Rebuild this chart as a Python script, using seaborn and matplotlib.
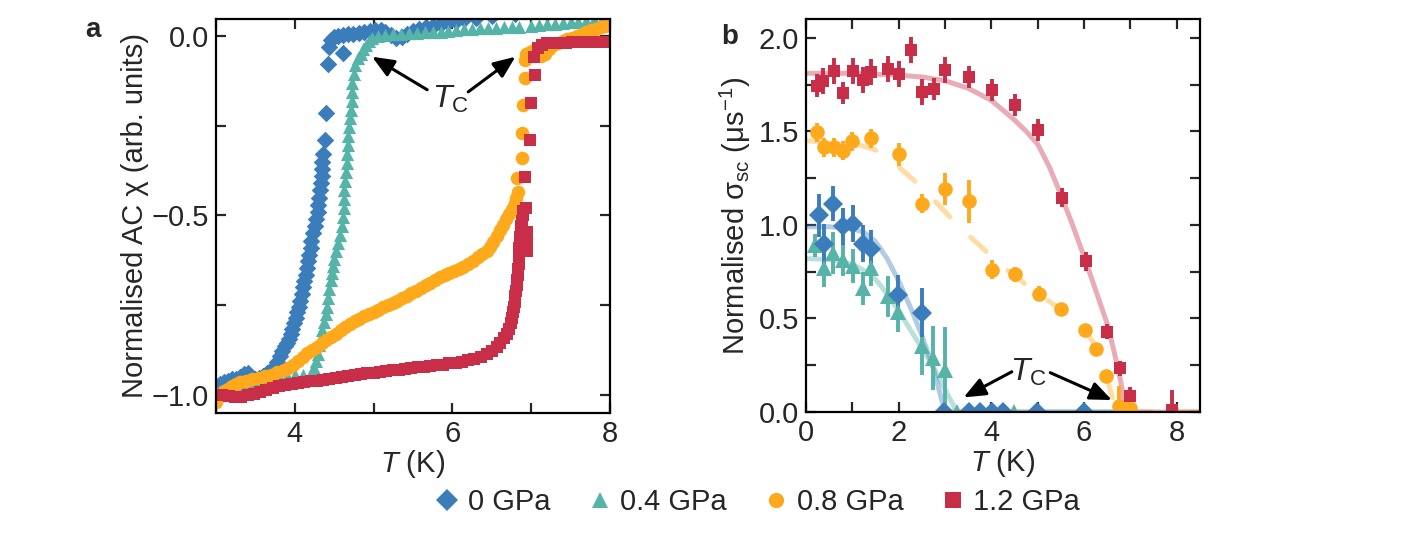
import matplotlib
matplotlib.use("Agg")
import matplotlib.pyplot as plt
from matplotlib.lines import Line2D
from matplotlib.ticker import MultipleLocator
import seaborn as sns

# ---------------- panel a: normalised AC susceptibility ----------------
chi_t_0 = [3.00, 3.05, 3.10, 3.15, 3.20, 3.25, 3.30, 3.35, 3.40, 3.45, 3.50, 3.55, 3.60, 3.65, 3.70,
           3.75, 3.78, 3.81, 3.84, 3.87, 3.90, 3.93, 3.95, 3.97, 3.99, 4.01, 4.03, 4.05, 4.07, 4.09,
           4.11, 4.12, 4.14, 4.15, 4.17, 4.18, 4.20, 4.21, 4.23, 4.25, 4.27, 4.29, 4.30, 4.31, 4.32,
           4.33, 4.34, 4.34, 4.35, 4.36, 4.38, 4.40, 4.42, 4.61, 4.43, 4.46, 4.50, 4.55, 4.61, 4.67,
           4.74, 4.81, 4.88, 4.95, 5.02, 5.09, 5.15, 5.22, 5.29, 5.36, 5.43, 5.50, 5.58, 5.66, 5.75,
           5.85, 5.95, 6.05, 6.15, 6.30, 6.50, 6.80, 7.20, 7.60, 8.00]
chi_0 = [-0.975, -0.970, -0.965, -0.960, -0.955, -0.955, -0.950, -0.942, -0.940, -0.950, -0.955, -0.952,
         -0.946, -0.940, -0.932, -0.920, -0.908, -0.892, -0.876, -0.864, -0.856, -0.845, -0.830, -0.815,
         -0.800, -0.785, -0.770, -0.755, -0.737, -0.718, -0.700, -0.683, -0.665, -0.646, -0.628, -0.610,
         -0.590, -0.570, -0.550, -0.530, -0.510, -0.490, -0.470, -0.450, -0.430, -0.410, -0.390, -0.370,
         -0.350, -0.330, -0.290, -0.215, -0.078, -0.048, -0.030, -0.012, -0.004, 0.000, 0.002, 0.004,
         0.006, 0.009, 0.011, 0.013, 0.016, 0.017, 0.010, 0.002, -0.006, -0.002, 0.006, 0.013, 0.019,
         0.024, 0.028, 0.033, 0.038, 0.042, 0.046, 0.050, 0.055, 0.060, 0.065, 0.070, 0.075]

chi_t_04 = [3.00, 3.10, 3.20, 3.30, 3.40, 3.50, 3.60, 3.70, 3.80, 3.90, 4.00, 4.10, 4.20, 4.24, 4.27,
            4.29, 4.31, 4.33, 4.35, 4.37, 4.39, 4.41, 4.42, 4.44, 4.46, 4.47, 4.49, 4.50, 4.52, 4.55,
            4.57, 4.60, 4.61, 4.62, 4.63, 4.63, 4.64, 4.65, 4.66, 4.66, 4.67, 4.68, 4.69, 4.70, 4.71,
            4.72, 4.72, 4.73, 4.75, 4.77, 4.80, 4.84, 4.87, 4.90, 4.94, 4.98, 5.05, 5.15, 5.25, 5.35,
            5.45, 5.55, 5.65, 5.75, 5.85, 5.95, 6.05, 6.15, 6.25, 6.35, 6.45, 6.55, 6.65, 6.75, 6.85,
            7.00, 7.10, 7.20, 7.30, 7.40, 7.50, 7.60, 7.70, 7.80, 7.90, 8.00]
chi_04 = [-0.990, -0.985, -0.980, -0.975, -0.970, -0.965, -0.960, -0.955, -0.950, -0.948, -0.945, -0.943,
          -0.940, -0.925, -0.905, -0.885, -0.862, -0.840, -0.818, -0.796, -0.775, -0.754, -0.730, -0.705,
          -0.680, -0.660, -0.640, -0.620, -0.600, -0.578, -0.555, -0.530, -0.505, -0.480, -0.455, -0.430,
          -0.405, -0.380, -0.355, -0.330, -0.305, -0.280, -0.255, -0.230, -0.205, -0.180, -0.155, -0.130,
          -0.105, -0.080, -0.062, -0.050, -0.036, -0.025, -0.013, -0.005, 0.000, 0.003, 0.005, 0.006,
          0.007, 0.009, 0.010, 0.011, 0.012, 0.014, 0.016, 0.018, 0.020, 0.021, 0.022, 0.023, 0.024,
          0.025, 0.026, 0.028, 0.030, 0.032, 0.034, 0.036, 0.038, 0.040, 0.041, 0.043, 0.044, 0.045]

chi_t_08 = [3.00, 3.05, 3.10, 3.15, 3.20, 3.25, 3.30, 3.38, 3.46, 3.54, 3.62, 3.70, 3.78, 3.86, 3.92,
            3.98, 4.04, 4.10, 4.16, 4.22, 4.28, 4.34, 4.40, 4.46, 4.52, 4.58, 4.64, 4.70, 4.76, 4.82,
            4.88, 4.94, 5.00, 5.06, 5.12, 5.18, 5.24, 5.30, 5.36, 5.42, 5.48, 5.54, 5.60, 5.66, 5.72,
            5.78, 5.84, 5.90, 5.96, 6.02, 6.08, 6.14, 6.20, 6.26, 6.32, 6.38, 6.44, 6.48, 6.52, 6.56,
            6.60, 6.64, 6.68, 6.72, 6.76, 6.79, 6.81, 6.83, 6.82, 6.88, 6.88, 6.90, 6.92, 6.92, 6.93,
            6.98, 7.03, 7.08, 7.13, 7.18, 7.23, 7.28, 7.34, 7.40, 7.46, 7.52, 7.58, 7.64, 7.70, 7.76,
            7.82, 7.88, 7.94, 8.00]
chi_08 = [-1.020, -1.002, -0.990, -0.984, -0.976, -0.970, -0.964, -0.960, -0.956, -0.953, -0.948, -0.943,
          -0.937, -0.930, -0.924, -0.915, -0.905, -0.895, -0.884, -0.874, -0.865, -0.856, -0.847, -0.838,
          -0.829, -0.819, -0.810, -0.802, -0.795, -0.788, -0.781, -0.775, -0.768, -0.762, -0.756, -0.750,
          -0.743, -0.737, -0.730, -0.724, -0.717, -0.709, -0.701, -0.694, -0.687, -0.680, -0.672, -0.665,
          -0.659, -0.654, -0.648, -0.643, -0.636, -0.627, -0.617, -0.607, -0.598, -0.588, -0.573, -0.557,
          -0.541, -0.526, -0.511, -0.496, -0.481, -0.466, -0.451, -0.436, -0.396, -0.341, -0.271, -0.193,
          -0.116, -0.068, -0.050, -0.044, -0.040, -0.048, -0.055, -0.050, -0.036, -0.026, -0.020, -0.015,
          -0.010, -0.005, 0.000, 0.005, 0.010, 0.015, 0.020, 0.024, 0.027, 0.030]

chi_t_12 = [3.00, 3.08, 3.16, 3.24, 3.32, 3.40, 3.48, 3.56, 3.64, 3.72, 3.80, 3.88, 3.96, 4.04, 4.12,
            4.20, 4.28, 4.36, 4.44, 4.52, 4.60, 4.68, 4.76, 4.84, 4.92, 5.00, 5.08, 5.16, 5.24, 5.32,
            5.40, 5.48, 5.56, 5.64, 5.72, 5.80, 5.88, 5.96, 6.04, 6.12, 6.20, 6.28, 6.36, 6.44, 6.50,
            6.56, 6.61, 6.65, 6.69, 6.72, 6.74, 6.76, 6.77, 6.78, 6.79, 6.80, 6.81, 6.82, 6.82, 6.83,
            6.83, 6.84, 6.84, 6.85, 6.85, 6.86, 6.86, 6.87, 6.87, 6.88, 6.89, 6.90, 6.95, 6.95, 6.95,
            6.94, 6.92, 6.99, 7.00, 7.05, 7.03, 7.08, 7.14, 7.20, 7.28, 7.36, 7.44, 7.52, 7.60, 7.68,
            7.76, 7.84, 7.92, 8.00]
chi_12 = [-1.000, -1.000, -1.003, -1.005, -1.005, -1.000, -0.997, -0.991, -0.985, -0.980, -0.975, -0.972,
          -0.968, -0.966, -0.964, -0.962, -0.960, -0.957, -0.955, -0.953, -0.950, -0.948, -0.945, -0.942,
          -0.940, -0.938, -0.936, -0.933, -0.931, -0.929, -0.927, -0.925, -0.923, -0.921, -0.919, -0.917,
          -0.915, -0.912, -0.910, -0.907, -0.903, -0.899, -0.893, -0.885, -0.877, -0.866, -0.855, -0.842,
          -0.830, -0.815, -0.800, -0.785, -0.770, -0.755, -0.740, -0.725, -0.710, -0.695, -0.680, -0.665,
          -0.650, -0.635, -0.620, -0.605, -0.590, -0.575, -0.560, -0.545, -0.530, -0.515, -0.500, -0.488,
          -0.600, -0.575, -0.545, -0.480, -0.392, -0.290, -0.187, -0.109, -0.060, -0.035, -0.025, -0.021,
          -0.020, -0.019, -0.019, -0.018, -0.018, -0.018, -0.017, -0.017, -0.017, -0.017]

# ---------------- panel b: normalised sigma_sc ----------------
sig_t_0 = [0.27, 0.39, 0.59, 0.79, 1.01, 1.24, 1.40, 1.98, 2.51, 2.97, 3.51, 3.76, 4.01, 4.26, 4.98, 5.99]
sig_0 = [1.051, 0.896, 1.113, 0.992, 1.006, 0.900, 0.873, 0.624, 0.530, 0.0, 0.0, 0.0, 0.0, 0.0, 0.0, 0.0]
sig_err_0 = [0.115, 0.11, 0.095, 0.10, 0.10, 0.10, 0.10, 0.11, 0.13, 0.0, 0.0, 0.0, 0.0, 0.0, 0.0, 0.0]

sig_t_04 = [0.19, 0.39, 0.59, 0.79, 1.01, 1.24, 1.40, 1.76, 1.98, 2.50, 2.75, 3.00, 3.25, 4.48]
sig_04 = [0.89, 0.772, 0.85, 0.814, 0.779, 0.66, 0.772, 0.619, 0.535, 0.355, 0.29, 0.222, 0.0, 0.0]
sig_err_04 = [0.06, 0.105, 0.11, 0.085, 0.09, 0.09, 0.10, 0.11, 0.11, 0.155, 0.17, 0.23, 0.0, 0.0]

sig_t_08 = [0.24, 0.38, 0.60, 0.80, 1.00, 1.40, 2.01, 2.50, 3.00, 3.51, 4.01, 4.50, 5.02, 5.50,
            6.01, 6.26, 6.48, 6.76, 7.00, 7.90]
sig_08 = [1.495, 1.415, 1.415, 1.397, 1.447, 1.463, 1.376, 1.113, 1.193, 1.125, 0.761, 0.736, 0.633,
          0.548, 0.437, 0.334, 0.192, 0.03, 0.02, 0.0]
sig_err_08 = [0.05, 0.05, 0.05, 0.05, 0.05, 0.05, 0.06, 0.05, 0.085, 0.115, 0.05, 0.04, 0.04, 0.03,
              0.03, 0.03, 0.03, 0.11, 0.11, 0.0]

sig_t_12 = [0.24, 0.37, 0.60, 0.80, 1.01, 1.24, 1.40, 1.76, 2.01, 2.26, 2.51, 2.76, 3.00, 3.51,
            4.01, 4.51, 5.00, 5.53, 6.03, 6.49, 6.77, 7.00, 7.90]
sig_12 = [1.744, 1.770, 1.824, 1.705, 1.824, 1.774, 1.815, 1.833, 1.806, 1.934, 1.708, 1.726, 1.828,
          1.790, 1.720, 1.640, 1.508, 1.145, 0.805, 0.430, 0.233, 0.085, 0.01]
sig_err_12 = [0.06, 0.07, 0.07, 0.06, 0.07, 0.07, 0.07, 0.07, 0.07, 0.07, 0.07, 0.06, 0.07, 0.06,
              0.06, 0.06, 0.06, 0.05, 0.05, 0.04, 0.04, 0.05, 0.11]

# fitted curves
fit_t_0 = [0.0, 0.5, 1.0, 1.25, 1.5, 1.75, 2.0, 2.25, 2.5, 2.75, 2.9, 3.0, 7.0]
fit_0 = [0.99, 0.99, 0.98, 0.96, 0.91, 0.82, 0.70, 0.56, 0.41, 0.23, 0.09, 0.0, 0.0]

fit_t_04 = [0.0, 0.5, 1.0, 1.3, 1.5, 1.75, 2.0, 2.25, 2.5, 2.75, 3.0, 3.15, 3.25, 7.0]
fit_04 = [0.82, 0.815, 0.79, 0.75, 0.71, 0.63, 0.54, 0.44, 0.34, 0.24, 0.12, 0.05, 0.0, 0.0]

fit_t_08 = [0.0, 0.5, 1.0, 1.25, 1.5, 1.75, 2.0, 2.25, 2.5, 2.75, 3.0, 3.25, 3.5, 3.75, 4.0, 4.25,
            4.5, 4.75, 5.0, 5.25, 5.5, 5.75, 6.0, 6.2, 6.4, 6.55, 6.65, 6.7, 8.5]
fit_08 = [1.45, 1.44, 1.435, 1.42, 1.40, 1.36, 1.31, 1.255, 1.20, 1.135, 1.07, 1.005, 0.945, 0.89,
          0.83, 0.775, 0.73, 0.68, 0.635, 0.59, 0.55, 0.50, 0.45, 0.37, 0.25, 0.13, 0.04, 0.0, 0.0]

fit_t_12 = [0.0, 1.0, 2.0, 2.5, 3.0, 3.5, 4.0, 4.5, 4.75, 5.0, 5.25, 5.5, 5.75, 6.0, 6.25, 6.5,
            6.65, 6.8, 6.9, 8.5]
fit_12 = [1.81, 1.81, 1.80, 1.79, 1.77, 1.73, 1.665, 1.56, 1.50, 1.43, 1.31, 1.16, 1.00, 0.83, 0.65,
          0.47, 0.32, 0.15, 0.0, 0.0]

labels = ["0 GPa", "0.4 GPa", "0.8 GPa", "1.2 GPa"]
colors = ["#3b7dbb", "#56b3a7", "#fda91b", "#c92e48"]
markers = ["D", "^", "o", "s"]

sns.set_style("ticks")
plt.rcParams.update({
    "font.family": ["Liberation Sans", "DejaVu Sans"],
    "font.size": 21,
    "mathtext.fontset": "custom",
    "mathtext.rm": "Liberation Sans",
    "mathtext.it": "Liberation Sans:italic",
    "mathtext.bf": "Liberation Sans:bold",
    "axes.linewidth": 1.6,
    "axes.edgecolor": "black",
})

fig = plt.figure(figsize=(14.19, 5.34), dpi=100)
ax_a = fig.add_axes([216 / 1419, 121 / 534, 394 / 1419, 394 / 534])
ax_b = fig.add_axes([806 / 1419, 122 / 534, 394 / 1419, 393 / 534])

# panel a
sizes_a = [80, 90, 95, 75]
for t, y, c, m, s in zip([chi_t_0, chi_t_04, chi_t_08, chi_t_12],
                         [chi_0, chi_04, chi_08, chi_12], colors, markers, sizes_a):
    sns.scatterplot(x=t, y=y, ax=ax_a, color=c, marker=m, s=s, linewidth=0, legend=False)

ax_a.set_xlim(3, 8)
ax_a.set_ylim(-1.05, 0.047)
ax_a.set_xlabel("$T$ (K)", labelpad=0)
ax_a.set_ylabel("Normalised AC χ (arb. units)", labelpad=2)
ax_a.xaxis.set_major_locator(MultipleLocator(2))
ax_a.xaxis.set_minor_locator(MultipleLocator(1))
ax_a.yaxis.set_major_locator(MultipleLocator(0.5))
ax_a.yaxis.set_minor_locator(MultipleLocator(0.25))

ax_a.text(5.97, -0.178, "$T_{\\mathrm{C}}$", ha="center", va="center", fontsize=23)
arrow = dict(arrowstyle="-|>,head_length=0.6,head_width=0.25", color="k", lw=2.2,
             shrinkA=0, shrinkB=0, mutation_scale=22)
ax_a.annotate("", xy=(4.98, -0.058), xytext=(5.68, -0.15), arrowprops=arrow)
ax_a.annotate("", xy=(6.8, -0.058), xytext=(6.2, -0.156), arrowprops=arrow)

# panel b: fits first
fits = [(fit_t_04, fit_04, colors[1], "-"), (fit_t_0, fit_0, colors[0], "-"),
        (fit_t_08, fit_08, colors[2], (0, (4.2, 5.8))), (fit_t_12, fit_12, colors[3], "-")]
for ft, fv, c, ls in fits:
    sns.lineplot(x=ft, y=fv, ax=ax_b, color=c, alpha=0.4, lw=3.6, sort=False, estimator=None,
                 linestyle=ls, solid_capstyle="round", dash_capstyle="round", zorder=1)

ms_b = [10.5, 11, 10.5, 9]
order = [1, 0, 2, 3]
for i in order:
    t = [sig_t_0, sig_t_04, sig_t_08, sig_t_12][i]
    v = [sig_0, sig_04, sig_08, sig_12][i]
    e = [sig_err_0, sig_err_04, sig_err_08, sig_err_12][i]
    ax_b.errorbar(t, v, yerr=e, fmt=markers[i], color=colors[i], ms=ms_b[i], mew=0,
                  elinewidth=2.8, capsize=0, zorder=2)

ax_b.set_xlim(0, 8.5)
ax_b.set_ylim(0, 2.1)
ax_b.set_xlabel("$T$ (K)", labelpad=0)
ax_b.set_ylabel("Normalised σ$_{\\mathrm{sc}}$ (μs$^{\\mathrm{-1}}$)", labelpad=4)
ax_b.xaxis.set_major_locator(MultipleLocator(2))
ax_b.xaxis.set_minor_locator(MultipleLocator(1))
ax_b.yaxis.set_major_locator(MultipleLocator(0.5))
ax_b.yaxis.set_minor_locator(MultipleLocator(0.25))

ax_b.text(4.80, 0.213, "$T_{\\mathrm{C}}$", ha="center", va="center", fontsize=23)
ax_b.annotate("", xy=(3.40, 0.078), xytext=(4.44, 0.215), arrowprops=arrow)
ax_b.annotate("", xy=(6.60, 0.064), xytext=(5.27, 0.21), arrowprops=arrow)

for ax in (ax_a, ax_b):
    ax.tick_params(which="both", direction="in", top=True, right=True, length=7, width=1.6,
                   labelsize=21, pad=5)
    for sp in ax.spines.values():
        sp.set_visible(True)
        sp.set_linewidth(1.6)

fig.text(93 / 1419, 1 - 30 / 534, "a", fontsize=20, fontweight="bold", ha="center", va="center")
fig.text(730 / 1419, 1 - 37 / 534, "b", fontsize=20, fontweight="bold", ha="center", va="center")

handles = [Line2D([], [], ls="none", marker=m, color=c, ms=11, mew=0) for m, c in zip(markers, colors)]
fig.legend(handles, labels, loc="center", bbox_to_anchor=(0.533, 0.06), ncol=4, frameon=False,
           handletextpad=0.2, columnspacing=1.2, handlelength=1.0, fontsize=21)

fig.savefig("out.png", dpi=100)
